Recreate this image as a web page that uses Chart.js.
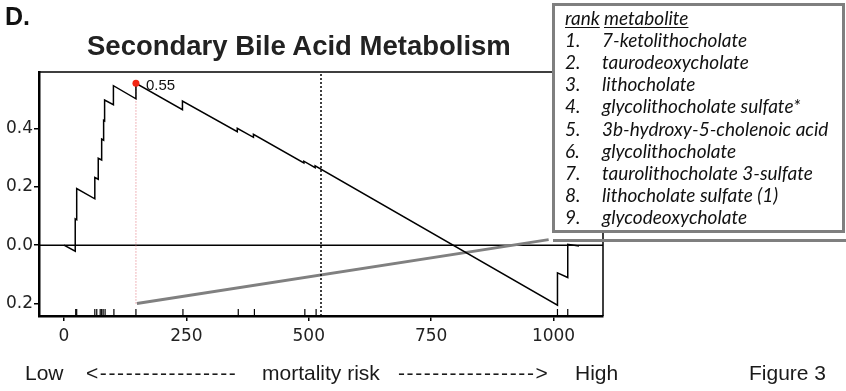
<!DOCTYPE html>
<html>
<head>
<meta charset="utf-8">
<script src="https://cdn.jsdelivr.net/npm/chart.js@4.4.1/dist/chart.umd.min.js"></script>
<style>
    body { margin: 0; background: #fff; }
    #figure { position: relative; width: 846px; height: 391px; overflow: hidden; }
    #chart { position: absolute; left: 0; top: 0; }
    .label { position: absolute; white-space: nowrap; font-family: "Liberation Sans", Arial, sans-serif; color: #111; line-height: 1; }
    #panelLetter { left: 5px; top: 4px; font-size: 25px; font-weight: bold; }
    #chartTitle { left: 87px; top: 31.5px; font-size: 27.5px; font-weight: bold; color: #222; }
    #rankBox { position: absolute; left: 552px; top: 3px; width: 293px; height: 230px; box-sizing: border-box; border: 3px solid #7f7f7f; background: #fff; }
    #rankBox .row { position: absolute; left: 0; height: 22.2px; line-height: 22.2px; font-family: Lato, "Open Sans", sans-serif; font-style: italic; font-size: 19px; color: #111; white-space: nowrap; }
    #rankBox .num { position: absolute; left: 10px; }
    #rankBox .name { position: absolute; left: 47px; }
    #rankBox u { text-decoration-thickness: 1px; text-underline-offset: 2px; }
    #boxShadow { position: absolute; left: 553px; top: 238.5px; width: 293px; height: 3px; background: #7f7f7f; }
    .caption { top: 361.5px; font-size: 21px; color: #1a1a1a; }
    .arrow { letter-spacing: 1.6px; }
</style>
</head>
<body>
<div id="figure">
    <canvas id="chart" width="846" height="391"></canvas>
    <div id="panelLetter" class="label">D.</div>
    <div id="chartTitle" class="label">Secondary Bile Acid Metabolism</div>
    <div id="rankBox"></div>
    <div id="boxShadow"></div>
    <div class="label caption" style="left:25px">Low</div>
    <div class="label caption arrow" style="left:86px">&lt;----------------</div>
    <div class="label caption" style="left:262px">mortality risk</div>
    <div class="label caption arrow" style="left:398px">----------------&gt;</div>
    <div class="label caption" style="left:575px">High</div>
    <div class="label caption" style="left:749px">Figure 3</div>
</div>
<script>
// running enrichment score, vertices
const ES_RANK = [0, 23, 23, 26, 26, 63, 63, 70, 70, 77, 77, 81, 81, 83, 83, 101, 101, 147, 147,
    242, 242, 354, 354, 387, 387, 490, 490, 513, 513, 1008, 1008, 1029, 1029, 1052];
const ES_VALUE = [0, -0.021, 0.09, 0.087, 0.194, 0.159, 0.232, 0.226, 0.298, 0.292, 0.364, 0.36, 0.428, 0.426, 0.498, 0.482, 0.547, 0.502, 0.555,
    0.465, 0.494, 0.389, 0.401, 0.37, 0.38, 0.282, 0.288, 0.266, 0.272, -0.206, -0.095, -0.111, 0.003, -0.003];

// ranks of set members (rug at the bottom)
const HIT_RANKS = [24, 26, 63, 67, 74, 77, 80, 84, 102, 147, 243, 356, 389, 492, 515, 1008, 1029];

const PEAK_RANK = 147;
const PEAK_ES = 0.555;
const PEAK_LABEL = "0.55";
const MEDIAN_RANK = 525;

// grey pointer from the leading edge to the table
const CALLOUT_RANK = [149, 990];
const CALLOUT_VALUE = [-0.2, 0.019];

const X_TICKS = [0, 250, 500, 750, 1000];
const X_TICK_LABELS = ["0", "250", "500", "750", "1000"];
const Y_TICKS = [-0.2, 0, 0.2, 0.4];
const Y_TICK_LABELS = ["0.2", "0.0", "0.2", "0.4"];
const X_MIN = -51;
const X_MAX = 1101;
const Y_MIN = -0.243;
const Y_MAX = 0.594;
const RUG_HALF = 0.012;

const RANK_LABELS = ["1.", "2.", "3.", "4.", "5.", "6.", "7.", "8.", "9."];
const METABOLITES = [
    "7-ketolithocholate",
    "taurodeoxycholate",
    "lithocholate",
    "glycolithocholate sulfate*",
    "3b-hydroxy-5-cholenoic acid",
    "glycolithocholate",
    "taurolithocholate 3-sulfate",
    "lithocholate sulfate (1)",
    "glycodeoxycholate"
];

function buildRankBox() {
    const box = document.getElementById("rankBox");
    const rowTop = 0.6;
    const rowStep = 22.2;

    const header = document.createElement("div");
    header.className = "row";
    header.style.top = rowTop + "px";
    header.innerHTML = '<span class="num"><u>rank</u></span><span class="name" style="left:49px"><u>metabolite</u></span>';
    box.appendChild(header);

    METABOLITES.forEach((name, i) => {
        const row = document.createElement("div");
        row.className = "row";
        row.style.top = (rowTop + rowStep * (i + 1)) + "px";
        const num = document.createElement("span");
        num.className = "num";
        num.textContent = RANK_LABELS[i];
        const label = document.createElement("span");
        label.className = "name";
        label.textContent = name;
        row.appendChild(num);
        row.appendChild(label);
        box.appendChild(row);
    });
}

function toPoints(xs, ys) {
    return xs.map((x, i) => ({ x: x, y: ys[i] }));
}

const frameAndLabels = {
    id: "frameAndLabels",
    afterDraw(chart) {
        const ctx = chart.ctx;
        const area = chart.chartArea;
        const xScale = chart.scales.x;
        const yScale = chart.scales.y;
        ctx.save();
        // thin top and right frame
        ctx.strokeStyle = "#000";
        ctx.lineWidth = 1.5;
        ctx.beginPath();
        ctx.moveTo(area.left, area.top);
        ctx.lineTo(area.right, area.top);
        ctx.lineTo(area.right, area.bottom);
        ctx.stroke();
        // peak value label
        ctx.fillStyle = "#111";
        ctx.font = "15px 'Liberation Sans', Arial, sans-serif";
        ctx.textBaseline = "alphabetic";
        ctx.fillText(PEAK_LABEL, xScale.getPixelForValue(PEAK_RANK) + 10, yScale.getPixelForValue(PEAK_ES) + 7);
        ctx.restore();
    }
};

function lineSet(data, color, width, dash) {
    return {
        data: data,
        showLine: true,
        borderColor: color,
        borderWidth: width,
        borderDash: dash || [],
        pointRadius: 0,
        tension: 0,
        fill: false
    };
}

function renderChart() {
    const tickFont = { family: "'DejaVu Sans', sans-serif", size: 17 };

    const datasets = [
        {
            data: [{ x: PEAK_RANK, y: PEAK_ES }],
            pointRadius: 3.5,
            pointBackgroundColor: "#f22613",
            pointBorderWidth: 0,
            showLine: false
        },
        lineSet(toPoints(ES_RANK, ES_VALUE), "#000", 1.5),
        {
            data: HIT_RANKS.map(r => ({ x: r, y: Y_MIN + RUG_HALF })),
            pointStyle: "line",
            rotation: 90,
            pointRadius: 3.5,
            pointBorderColor: "#000",
            pointBorderWidth: 1.2,
            showLine: false
        },
        lineSet(toPoints([PEAK_RANK, PEAK_RANK], [CALLOUT_VALUE[0], PEAK_ES]), "#e0707a", 1, [1, 2]),
        lineSet(toPoints([MEDIAN_RANK, MEDIAN_RANK], [Y_MIN, Y_MAX]), "#000", 1.5, [2, 2]),
        lineSet(toPoints(CALLOUT_RANK, CALLOUT_VALUE), "#808080", 3),
        lineSet(toPoints([X_MIN, X_MAX], [0, 0]), "#000", 1.5)
    ];

    new Chart(document.getElementById("chart"), {
        type: "scatter",
        data: { datasets },
        options: {
            responsive: false,
            animation: false,
            events: [],
            layout: { padding: { left: 0, top: 72, right: 243, bottom: 0 } },
            plugins: {
                legend: { display: false },
                tooltip: { enabled: false },
                title: { display: false }
            },
            scales: {
                x: {
                    type: "linear",
                    min: X_MIN,
                    max: X_MAX,
                    afterFit: (scale) => { scale.height = 75; },
                    afterBuildTicks: (scale) => { scale.ticks = X_TICKS.map(v => ({ value: v })); },
                    ticks: {
                        font: tickFont,
                        color: "#222",
                        padding: 5,
                        maxRotation: 0,
                        callback: (value, index) => X_TICK_LABELS[index]
                    },
                    grid: { drawOnChartArea: false, drawTicks: true, tickLength: 5, color: "#000", lineWidth: 1.5 },
                    border: { display: true, color: "#000", width: 2.5 }
                },
                y: {
                    type: "linear",
                    min: Y_MIN,
                    max: Y_MAX,
                    afterFit: (scale) => { scale.width = 39; },
                    afterBuildTicks: (scale) => { scale.ticks = Y_TICKS.map(v => ({ value: v })); },
                    ticks: {
                        font: tickFont,
                        color: "#222",
                        padding: 1,
                        callback: (value, index) => Y_TICK_LABELS[index]
                    },
                    grid: { drawOnChartArea: false, drawTicks: true, tickLength: 5, color: "#000", lineWidth: 1.5 },
                    border: { display: true, color: "#000", width: 2.5 }
                }
            }
        },
        plugins: [frameAndLabels]
    });
}

buildRankBox();
renderChart();
</script>
</body>
</html>
